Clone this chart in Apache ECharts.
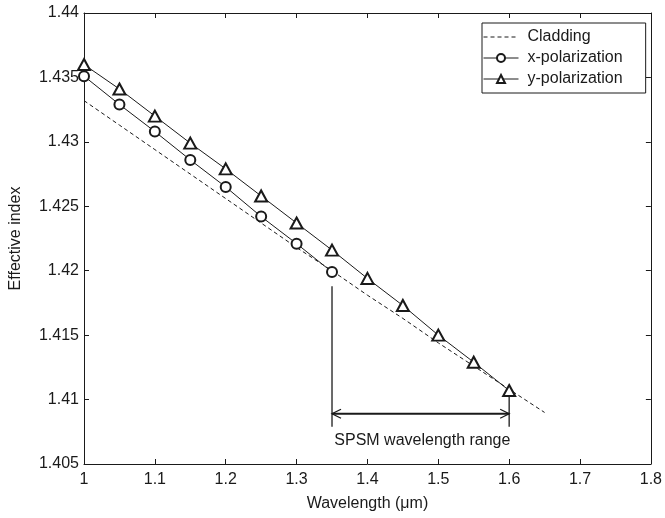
<!DOCTYPE html>
<html><head><meta charset="utf-8">
<script src="https://cdn.jsdelivr.net/npm/echarts@6/dist/echarts.min.js"></script>
<style>html,body{margin:0;padding:0;background:#fff}#c{width:665px;height:518px}</style>
</head><body><div id="c"></div>
<script>
// ---- data ----
const xPolX = [1.0, 1.05, 1.1, 1.15, 1.2, 1.25, 1.3, 1.35];
const xPolY = [1.4351, 1.4329, 1.4308, 1.4286, 1.4265, 1.4242, 1.4221, 1.4199];
const yPolX = [1.0, 1.05, 1.1, 1.15, 1.2, 1.25, 1.3, 1.35, 1.4, 1.45, 1.5, 1.55, 1.6];
const yPolY = [1.4360, 1.4341, 1.4320, 1.4299, 1.4279, 1.4258, 1.4237, 1.4216, 1.4194, 1.4173, 1.4150, 1.4129, 1.4107];
const cladX = [1.0, 1.05, 1.1, 1.15, 1.2, 1.25, 1.3, 1.35, 1.4, 1.45, 1.5, 1.55, 1.6, 1.65];
const cladY = [1.4332, 1.4313, 1.4294, 1.4275, 1.4256, 1.4237, 1.4218, 1.4200, 1.4181, 1.4163, 1.4144, 1.4126, 1.4108, 1.4090];
const seriesNames = ['Cladding', 'x-polarization', 'y-polarization'];
// SPSM range annotation (data units)
const rangeStart = 1.35, rangeEnd = 1.6;
const rangeArrowY = 1.4089, rangeBottomY = 1.4079;
const rangeStartTopY = 1.4188, rangeEndTopY = 1.4103;
const rangeLabel = 'SPSM wavelength range';
const rangeLabelPos = [1.4775, 1.40685];
const xTicks = {min: 1, max: 1.8, interval: 0.1};
const yTicks = {min: 1.405, max: 1.44, interval: 0.005};

const zip = (a, b) => a.map((v, i) => [v, b[i]]);
const FONT = 'Liberation Sans, Arial, sans-serif';
const INK = '#1a1a1a';
const FS = 16;

const chart = echarts.init(document.getElementById('c'));
const axisCommon = {
  axisLine: {show: true, lineStyle: {color: INK, width: 1}},
  axisTick: {show: true, inside: true, length: 5, lineStyle: {color: INK}},
  splitLine: {show: false}
};
chart.setOption({
  backgroundColor: '#fff',
  animation: false,
  textStyle: {fontFamily: FONT, color: INK},
  grid: {left: 83, top: 13, right: 12, bottom: 54, containLabel: false},
  legend: {
    data: [
      {name: seriesNames[0], itemStyle: {opacity: 0}},
      {name: seriesNames[1]},
      {name: seriesNames[2]}
    ],
    orient: 'vertical', left: 482, top: 23,
    padding: [6, 23, 6, 1], itemGap: 5, itemWidth: 35, itemHeight: 10,
    lineStyle: {width: 1},
    backgroundColor: '#fff', borderColor: INK, borderWidth: 1, borderRadius: 0,
    textStyle: {fontFamily: FONT, fontSize: FS, color: INK, padding: [0, 0, 0, 4]}
  },
  xAxis: [
    Object.assign({type: 'value', position: 'bottom', min: xTicks.min, max: xTicks.max, interval: xTicks.interval,
      name: 'Wavelength (\u03bcm)', nameLocation: 'middle', nameGap: 32,
      nameTextStyle: {fontFamily: FONT, fontSize: FS, color: INK},
      axisLabel: {fontFamily: FONT, fontSize: FS, color: INK, margin: 8}}, axisCommon),
    Object.assign({type: 'value', position: 'top', min: xTicks.min, max: xTicks.max, interval: xTicks.interval,
      axisLabel: {show: false}}, axisCommon)
  ],
  yAxis: [
    Object.assign({type: 'value', position: 'left', min: yTicks.min, max: yTicks.max, interval: yTicks.interval,
      name: 'Effective index', nameLocation: 'middle', nameGap: 60, nameRotate: 90,
      nameTextStyle: {fontFamily: FONT, fontSize: FS, color: INK},
      axisLabel: {fontFamily: FONT, fontSize: FS, color: INK, margin: 5,
        formatter: v => String(+v.toFixed(3))}}, axisCommon),
    Object.assign({type: 'value', position: 'right', min: yTicks.min, max: yTicks.max, interval: yTicks.interval,
      axisLabel: {show: false}}, axisCommon)
  ],
  series: [
    {name: seriesNames[0], type: 'line', data: zip(cladX, cladY), symbol: 'none',
      lineStyle: {color: INK, width: 1, type: [4, 3]}, itemStyle: {color: INK}},
    {name: seriesNames[1], type: 'line', data: zip(xPolX, xPolY), symbol: 'emptyCircle', symbolSize: 10,
      lineStyle: {color: INK, width: 1}, itemStyle: {color: INK, borderColor: INK, borderWidth: 1}},
    {name: seriesNames[2], type: 'line', data: zip(yPolX, yPolY), symbol: 'emptyTriangle', symbolSize: [12, 11],
      lineStyle: {color: INK, width: 1}, itemStyle: {color: INK, borderColor: INK, borderWidth: 1}},
    {type: 'custom', data: [[rangeStart, rangeArrowY]], silent: true, z: 5,
      renderItem: (params, api) => {
        const a = api.coord([rangeStart, rangeArrowY]);
        const b = api.coord([rangeEnd, rangeArrowY]);
        const s1 = api.coord([rangeStart, rangeStartTopY]);
        const s2 = api.coord([rangeStart, rangeBottomY]);
        const e1 = api.coord([rangeEnd, rangeEndTopY]);
        const e2 = api.coord([rangeEnd, rangeBottomY]);
        const t = api.coord(rangeLabelPos);
        const st = {stroke: INK, lineWidth: 1.3, fill: null};
        const ah = 9, aw = 4.5;
        return {type: 'group', children: [
          {type: 'line', shape: {x1: s1[0], y1: s1[1], x2: s2[0], y2: s2[1]}, style: st},
          {type: 'line', shape: {x1: e1[0], y1: e1[1], x2: e2[0], y2: e2[1]}, style: st},
          {type: 'line', shape: {x1: a[0], y1: a[1], x2: b[0], y2: b[1]}, style: {stroke: INK, lineWidth: 1.8}},
          {type: 'polyline', shape: {points: [[a[0] + ah, a[1] - aw], [a[0], a[1]], [a[0] + ah, a[1] + aw]]}, style: st},
          {type: 'polyline', shape: {points: [[b[0] - ah, b[1] - aw], [b[0], b[1]], [b[0] - ah, b[1] + aw]]}, style: st},
          {type: 'text', x: t[0], y: t[1], style: {text: rangeLabel, fill: INK, font: FS + 'px ' + FONT,
            textAlign: 'center', textVerticalAlign: 'middle'}}
        ]};
      }}
  ]
});
</script></body></html>
